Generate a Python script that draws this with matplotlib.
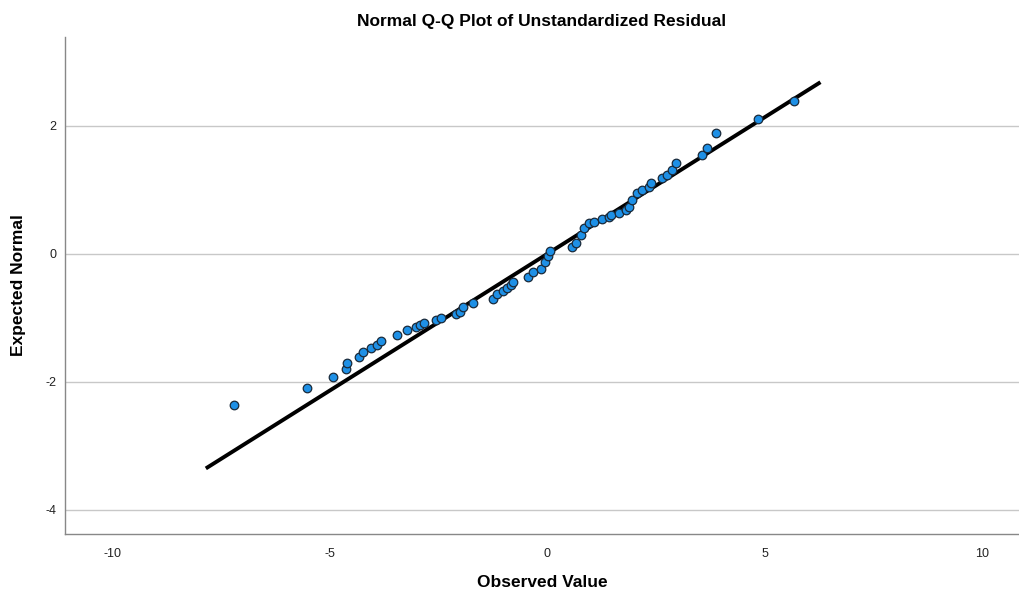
import numpy as np
import matplotlib
matplotlib.use("Agg")
import matplotlib.pyplot as plt

# observed residuals (x) and expected normal values (y)
observed = [-7.22, -5.54, -4.92, -4.64, -4.62, -4.34, -4.23, -4.05, -3.93, -3.82,
            -3.45, -3.22, -3.03, -2.92, -2.83, -2.55, -2.44, -2.11, -2.00, -1.93,
            -1.70, -1.24, -1.15, -1.03, -0.92, -0.83, -0.78, -0.44, -0.32, -0.14,
            -0.05, 0.02, 0.07,
            0.57, 0.67, 0.78, 0.85, 0.97, 1.08, 1.26, 1.43, 1.47, 1.66,
            1.82, 1.89, 1.95, 2.07, 2.18, 2.34, 2.39, 2.64, 2.76, 2.87,
            2.97, 3.56, 3.68, 3.89, 4.85, 5.68]
expected = [-2.36, -2.09, -1.92, -1.80, -1.70, -1.61, -1.53, -1.47, -1.42, -1.36,
            -1.27, -1.19, -1.14, -1.11, -1.08, -1.03, -1.00, -0.94, -0.91, -0.83,
            -0.77, -0.70, -0.63, -0.58, -0.53, -0.48, -0.44, -0.36, -0.28, -0.23,
            -0.13, -0.03, 0.05,
            0.11, 0.17, 0.30, 0.41, 0.48, 0.50, 0.55, 0.58, 0.61, 0.64,
            0.69, 0.73, 0.84, 0.95, 1.00, 1.05, 1.11, 1.19, 1.23, 1.31,
            1.42, 1.55, 1.66, 1.89, 2.11, 2.38]

# reference normal line
line_mean = 0.0
line_sd = 2.345
line_x = [-7.82, 6.25]

xticks = [-10, -5, 0, 5, 10]
yticks = [-4, -2, 0, 2]

plt.rcParams['font.family'] = ['Liberation Sans', 'DejaVu Sans']
plt.rcParams['axes.unicode_minus'] = False

fig = plt.figure(figsize=(10.2, 5.94), dpi=100)
ax = fig.add_axes([0.0637, 0.101, 0.935, 0.837])

ax.set_xlim(-11.1, 10.85)
ax.set_ylim(-4.375, 3.39)

lx = np.array(line_x)
ax.plot(lx, (lx - line_mean) / line_sd, color='black', linewidth=2.8, zorder=2)
ax.scatter(observed, expected, s=38, facecolor='#1e90e6', edgecolor='#1a2a3a',
           linewidth=0.9, zorder=3)

ax.set_xticks(xticks)
ax.set_yticks(yticks)
ax.tick_params(axis='both', length=0, labelsize=9, colors='#222222')
ax.tick_params(axis='x', pad=10)
ax.tick_params(axis='y', pad=6)
ax.yaxis.grid(True, color='#c8c8c8', linewidth=1.0)
ax.set_axisbelow(True)

for side in ['top', 'right']:
    ax.spines[side].set_visible(False)
for side in ['left', 'bottom']:
    ax.spines[side].set_color('#888888')
    ax.spines[side].set_linewidth(1.0)

ax.set_title('Normal Q-Q Plot of Unstandardized Residual', fontsize=12.5,
             fontweight='bold', pad=8)
ax.set_xlabel('Observed Value', fontsize=12.5, fontweight='bold', labelpad=11)
ax.set_ylabel('Expected Normal', fontsize=12.5, fontweight='bold', labelpad=14)

fig.savefig('out.png', dpi=100)
